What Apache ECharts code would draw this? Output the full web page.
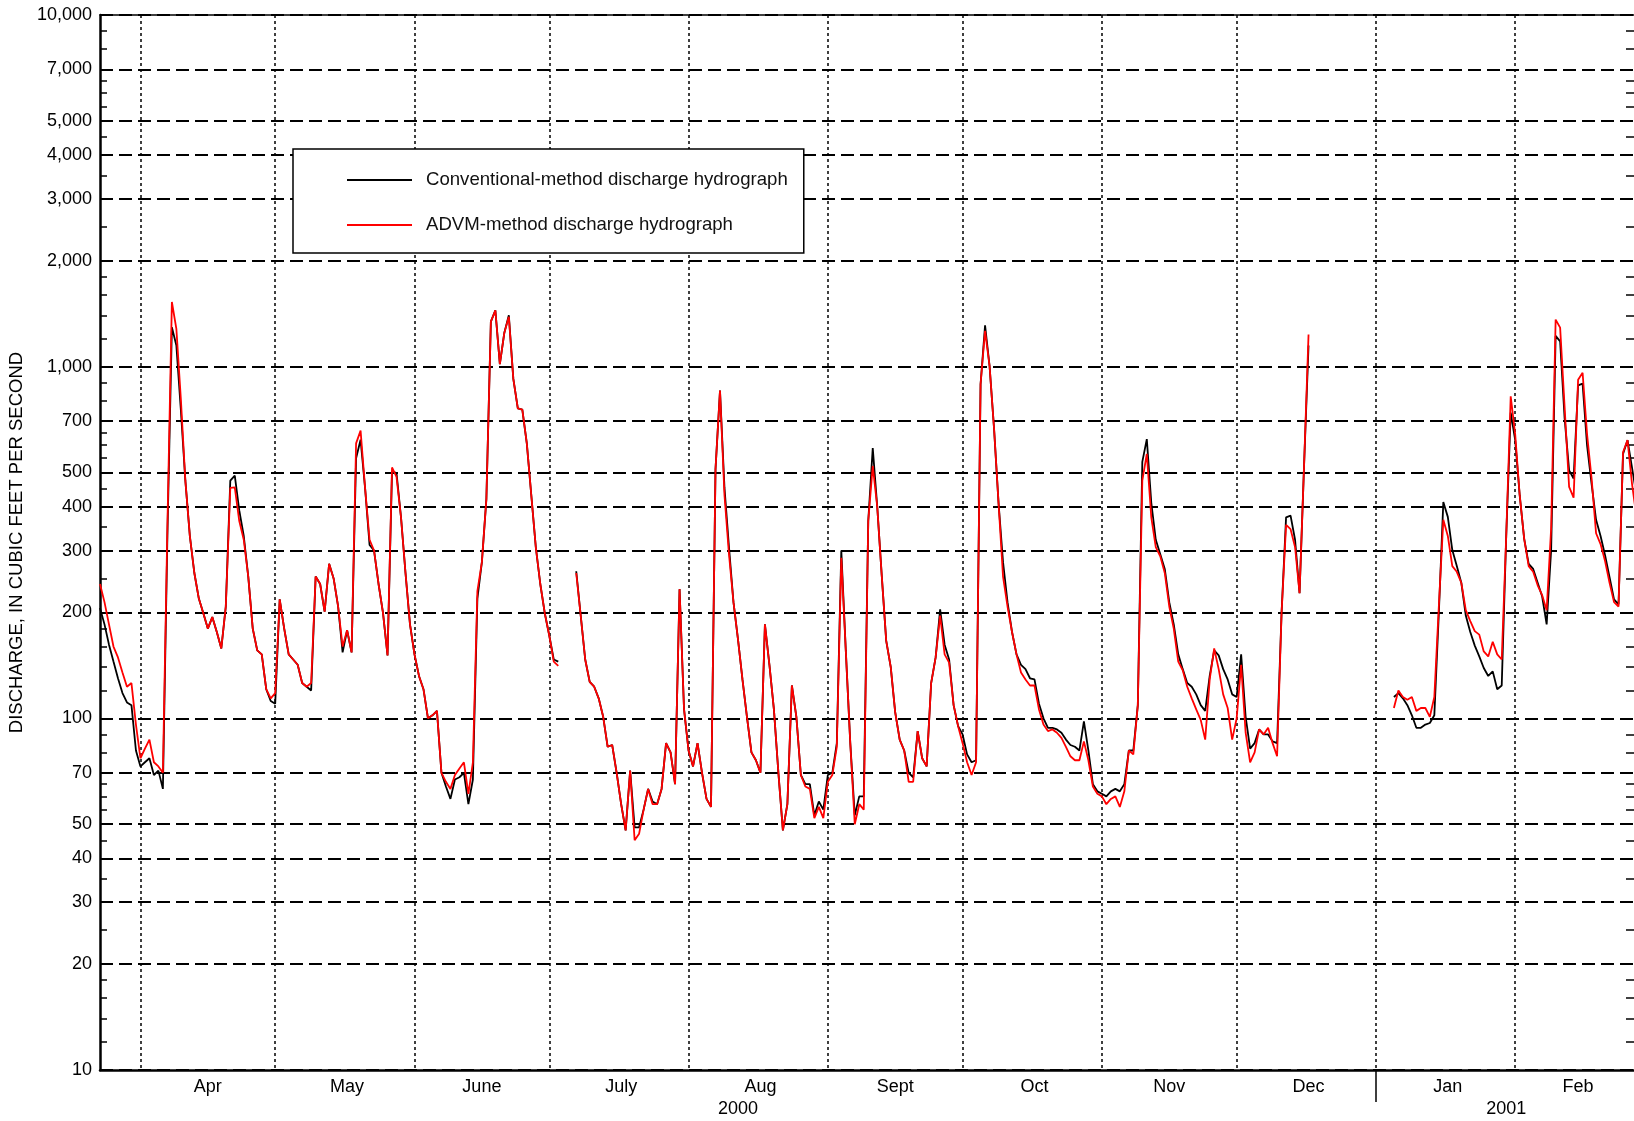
<!DOCTYPE html>
<html>
<head>
<meta charset="utf-8">
<title>Discharge hydrograph</title>
<script src="https://cdn.jsdelivr.net/npm/echarts@6/dist/echarts.min.js"></script>
<style>
  html, body { margin: 0; padding: 0; background: #fff; }
  #chart { width: 1634px; height: 1121px; }
</style>
</head>
<body>
<div id="chart"></div>
<script>
// daily values, 2000-03-23 .. 2001-03-01, null where no record
var conventional = [
  // Mar 23-31
  206, 185, 162, 145, 130, 118, 111, 109, 81,
  // Apr
  73, 75, 77, 69, 71, 63, 330, 1295, 1148, 752, 474, 330, 259, 219, 199, 180, 194, 176, 158, 208,
  474, 490, 390, 330, 253, 180, 156, 152, 121, 112,
  // May
  110, 218, 180, 152, 147, 142, 126, 123, 120, 253, 241, 201, 275, 250, 208, 154, 178, 154, 549, 620,
  452, 311, 300, 241, 199, 151, 504, 498, 373, 259, 185,
  // June
  152, 132, 121, 100, 102, 105, 70, 64, 59, 67, 68, 70, 57, 67, 219, 278, 420, 1343, 1445, 1017,
  1249, 1400, 923, 761, 755, 605, 431, 307, 241, 199,
  // July
  172, 147, 145, null, null, null, 262, 196, 147, 127, 123, 114, 101, 83, 84, 70, 57, 48, 71, 49,
  49, 55, 63, 58, 57, 63, 85, 80, 65, 233, 106,
  // Aug
  81, 73, 85, 70, 59, 56, 511, 855, 452, 307, 214, 168, 129, 101, 80, 76, 70, 185, 142, 106,
  70, 48, 57, 124, 101, 69, 65, 65, 53, 58, 55,
  // Sept
  69, 70, 85, 300, 156, 85, 53, 60, 60, 364, 587, 400, 255, 166, 140, 104, 87, 81, 70, 68,
  92, 77, 73, 126, 149, 204, 162, 147, 109, 95,
  // Oct
  90, 79, 75, 76, 891, 1311, 1005, 667, 410, 278, 214, 176, 152, 142, 138, 130, 129, 110, 100, 94,
  94, 93, 91, 87, 84, 83, 81, 98, 81, 65, 62,
  // Nov
  61, 60, 62, 63, 62, 65, 81, 81, 109, 536, 622, 410, 322, 293, 266, 214, 185, 152, 138, 126,
  123, 117, 109, 105, 132, 156, 151, 138, 129, 117,
  // Dec
  115, 152, 101, 82, 85, 93, 90, 90, 86, 85, 200, 373, 377, 322, 227, 522, 1148, null, null, null,
  null, null, null, null, null, null, null, null, null, null, null,
  // Jan
  null, null, null, null, 115, 118, 114, 109, 102, 94, 94, 96, 97, 102, 199, 412, 374, 301, 271, 243,
  196, 176, 161, 150, 139, 132, 136, 121, 124, 330, 740,
  // Feb
  618, 431, 324, 275, 266, 243, 222, 185, 301, 1223, 1180, 713, 507, 481, 885, 895, 596, 464, 367, 330,
  291, 252, 218, 211, 565, 618, 516, 431,
  // Mar 1
  null
]

var advm = [
  // Mar 23-31
  241, 214, 185, 160, 149, 135, 123, 126, 96,
  // Apr
  77, 82, 87, 75, 73, 70, 350, 1527, 1280, 808, 474, 330, 259, 219, 199, 180, 194, 176, 158, 208,
  452, 454, 364, 322, 253, 180, 156, 152, 121, 114,
  // May
  118, 218, 180, 152, 147, 142, 126, 123, 126, 253, 241, 201, 275, 250, 208, 160, 178, 154, 605, 658,
  452, 322, 300, 241, 199, 151, 517, 486, 373, 259, 185,
  // June
  152, 132, 121, 100, 102, 105, 70, 66, 63, 69, 72, 75, 61, 75, 230, 278, 420, 1343, 1445, 1017,
  1249, 1386, 923, 761, 755, 605, 431, 307, 241, 199,
  // July
  172, 145, 141, null, null, null, 259, 196, 147, 127, 123, 114, 101, 83, 84, 70, 57, 48, 71, 45,
  47, 55, 63, 57, 57, 63, 85, 80, 65, 233, 106,
  // Aug
  81, 73, 85, 70, 59, 56, 511, 855, 431, 293, 214, 168, 129, 101, 80, 76, 70, 185, 142, 106,
  70, 48, 57, 124, 101, 69, 64, 63, 52, 56, 52,
  // Sept
  66, 69, 83, 286, 156, 85, 50, 57, 55, 364, 522, 400, 255, 166, 140, 104, 87, 81, 66, 66,
  92, 77, 73, 126, 149, 196, 152, 144, 109, 95,
  // Oct
  85, 75, 69, 75, 891, 1265, 1005, 667, 410, 253, 208, 176, 152, 135, 129, 124, 124, 106, 96, 92,
  93, 91, 88, 83, 78, 76, 76, 86, 76, 64, 61,
  // Nov
  60, 57, 59, 60, 56, 62, 81, 79, 109, 474, 565, 373, 307, 289, 259, 208, 180, 145, 137, 123,
  114, 106, 99, 87, 129, 158, 138, 117, 107, 87,
  // Dec
  100, 142, 91, 75, 80, 93, 90, 94, 85, 78, 200, 355, 345, 307, 227, 522, 1234, null, null, null,
  null, null, null, null, null, null, null, null, null, null, null,
  // Jan
  null, null, null, null, 107, 120, 115, 113, 115, 105, 107, 107, 101, 115, 208, 367, 330, 271, 261, 243,
  203, 189, 177, 173, 155, 150, 165, 152, 147, 330, 824,
  // Feb
  641, 431, 324, 271, 261, 239, 224, 203, 347, 1361, 1291, 767, 455, 424, 918, 961, 641, 481, 336, 313,
  280, 243, 214, 208, 571, 618, 464, 374,
  // Mar 1
  null
]

var seriesNames = ['Conventional-method discharge hydrograph', 'ADVM-method discharge hydrograph']

// 月份标签放在每月中间那一天
var monthLabels = {
  '2000-04-16': 'Apr', '2000-05-17': 'May', '2000-06-16': 'June', '2000-07-17': 'July',
  '2000-08-17': 'Aug', '2000-09-16': 'Sept', '2000-10-17': 'Oct', '2000-11-16': 'Nov',
  '2000-12-17': 'Dec', '2001-01-17': 'Jan', '2001-02-15': 'Feb'
}
var yearLabels = { '2000-08-12': '2000', '2001-01-30': '2001' }
var yearSplit = '2001-01-01'

var yMajor = [10, 20, 30, 40, 50, 70, 100, 200, 300, 400, 500, 700,
  1000, 2000, 3000, 4000, 5000, 7000, 10000]
var yMinor = [12, 14, 16, 18, 25, 35, 45, 55, 60, 65, 80, 90,
  120, 140, 160, 180, 250, 350, 450, 550, 600, 650, 800, 900,
  1200, 1400, 1600, 1800, 2500, 3500, 4500, 5500, 6000, 6500, 8000, 9000]

// x 轴的日期类目
var days = []
var start = Date.UTC(2000, 2, 23)
for (let i = 0; i < conventional.length; i++) {
  days.push(new Date(start + i * 86400000).toISOString().slice(0, 10))
}

var FONT = '"Liberation Sans", Arial, Helvetica, sans-serif'
// 图例里的线段图标
var LINE_ICON = 'path://M0,0 H65 V2 H0 Z'

function isMonthStart (idx, val) {
  return val.slice(8) === '01'
}

function fmtNum (v) {
  return Math.round(v).toLocaleString('en-US')
}

var chart = echarts.init(document.getElementById('chart'), null, { renderer: 'canvas' })
chart.setOption({
  animation: false,
  backgroundColor: '#fff',
  textStyle: { fontFamily: FONT, color: '#000' },
  grid: {
    left: 100, top: 15, right: -7, bottom: 51,
    containLabel: false, outerBoundsMode: 'none'
  },
  legend: {
    orient: 'vertical',
    left: 293,
    top: 149,
    padding: [21, 16, 18, 54],
    itemGap: 25,
    itemWidth: 65,
    itemHeight: 2,
    icon: LINE_ICON,
    backgroundColor: '#fff',
    borderColor: '#000',
    borderWidth: 1.5,
    borderRadius: 0,
    textStyle: { fontFamily: FONT, fontSize: 18.6, color: '#111', lineHeight: 20, padding: [0, 0, 0, 9] },
    data: seriesNames
  },
  xAxis: [
    {
      type: 'category',
      data: days,
      boundaryGap: false,
      position: 'bottom',
      axisLine: { show: true, lineStyle: { color: '#000', width: 2.5 } },
      axisTick: { show: false },
      axisLabel: {
        interval: function (i, v) { return monthLabels[v] !== undefined },
        formatter: function (v) { return monthLabels[v] || '' },
        fontFamily: FONT, fontSize: 18, color: '#000', margin: 8
      },
      splitLine: {
        show: true,
        interval: isMonthStart,
        lineStyle: { color: '#000', width: 1.5, type: [3, 3] }
      }
    },
    {
      type: 'category',
      data: days,
      boundaryGap: false,
      position: 'bottom',
      axisLine: { show: false },
      axisTick: {
        show: true,
        inside: false,
        length: 32,
        interval: function (i, v) { return v === yearSplit },
        lineStyle: { color: '#000', width: 1.5 }
      },
      axisLabel: {
        interval: function (i, v) { return yearLabels[v] !== undefined },
        formatter: function (v) { return yearLabels[v] || '' },
        fontFamily: FONT, fontSize: 18, color: '#000', margin: 30
      },
      splitLine: { show: false }
    },
    {
      type: 'category',
      data: days,
      boundaryGap: false,
      position: 'top',
      axisLine: { show: true, lineStyle: { color: '#000', width: 1.5 } },
      axisTick: { show: false },
      axisLabel: { show: false },
      splitLine: { show: false }
    }
  ],
  yAxis: [
    {
      type: 'log',
      logBase: 10,
      min: 10,
      max: 10000,
      position: 'left',
      name: 'DISCHARGE, IN CUBIC FEET PER SECOND',
      nameLocation: 'middle',
      nameRotate: 90,
      nameGap: 65,
      nameTextStyle: { fontFamily: FONT, fontSize: 18.5, color: '#000' },
      axisLine: { show: true, lineStyle: { color: '#000', width: 2.5 } },
      axisTick: { show: false, customValues: yMajor },
      axisLabel: {
        customValues: yMajor,
        formatter: fmtNum,
        fontFamily: FONT, fontSize: 18, color: '#000', margin: 8
      },
      splitLine: { show: true, lineStyle: { color: '#000', width: 1.8, type: [13, 6] } },
      minorTick: { show: false },
      minorSplitLine: { show: false }
    },
    {
      type: 'log',
      logBase: 10,
      min: 10,
      max: 10000,
      position: 'left',
      axisLine: { show: false },
      axisTick: { show: true, inside: true, length: 7, customValues: yMinor, lineStyle: { color: '#000', width: 1.5 } },
      axisLabel: { show: false },
      splitLine: { show: false }
    },
    {
      type: 'log',
      logBase: 10,
      min: 10,
      max: 10000,
      position: 'right',
      offset: -7,
      axisLine: { show: false },
      axisTick: { show: true, inside: true, length: 8, customValues: yMinor, lineStyle: { color: '#000', width: 1.5 } },
      axisLabel: { show: false },
      splitLine: { show: false }
    }
  ],
  series: [
    {
      name: seriesNames[0],
      type: 'line',
      data: conventional,
      xAxisIndex: 0,
      yAxisIndex: 0,
      symbol: 'none',
      connectNulls: false,
      lineStyle: { color: '#000', width: 1.8 },
      itemStyle: { color: '#000' },
      z: 3
    },
    {
      name: seriesNames[1],
      type: 'line',
      data: advm,
      xAxisIndex: 0,
      yAxisIndex: 0,
      symbol: 'none',
      connectNulls: false,
      lineStyle: { color: '#ff0000', width: 1.8 },
      itemStyle: { color: '#ff0000' },
      z: 4
    }
  ]
})
</script>
</body>
</html>
